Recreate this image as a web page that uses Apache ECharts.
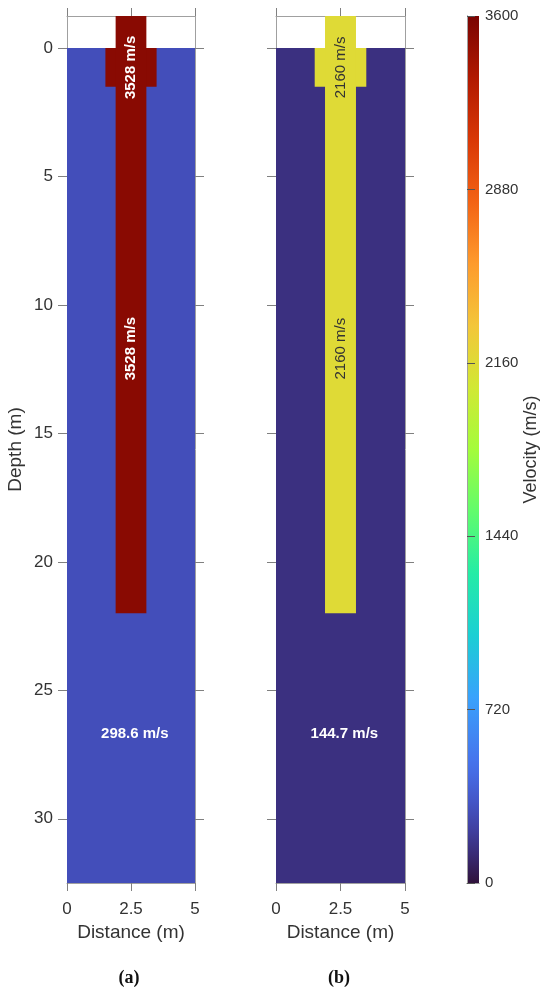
<!DOCTYPE html>
<html>
<head>
<meta charset="utf-8">
<script src="https://cdn.jsdelivr.net/npm/echarts@6/dist/echarts.min.js"></script>
<style>
  html, body { margin: 0; padding: 0; background: #fff; }
  #chart { width: 550px; height: 997px; }
</style>
</head>
<body>
<div id="chart"></div>
<script>
// velocities (m/s): panel a, panel b
var soilVel = [298.6, 144.7];
var pileVel = [3528, 2160];

// geometry in metres: [x0, x1, depthTop, depthBottom]
var soilBox = [0, 5, 0, 32.5];
var capBox = [1.5, 3.5, 0, 1.5];
var pileBox = [1.9, 3.1, -1.25, 22];

// where the velocity labels sit: [distance, depth]
var pileLabelPos = [[2.5, 0.75], [2.5, 11.7]];
var soilLabelPos = [2.65, 26.7];

// axis ticks
var depthTicks = [0, 5, 10, 15, 20, 25, 30];
var distTicks = [0, 2.5, 5];
var velTicks = [0, 720, 1440, 2160, 2880, 3600];

// turbo colour map key colours (offset 0..1)
var turboStops = [
  [0, "#30123b"], [8 / 255, "#392a73"], [16 / 255, "#4040a2"], [24 / 255, "#4456c7"],
  [32 / 255, "#466be3"], [2 / 14, "#4675ed"], [3 / 14, "#39a2fc"], [4 / 14, "#1bcfd4"],
  [5 / 14, "#24eca6"], [6 / 14, "#61fc6c"], [7 / 14, "#a4fc3b"], [8 / 14, "#d1e834"],
  [9 / 14, "#f3c63a"], [10 / 14, "#fe9b2d"], [11 / 14, "#f36315"], [12 / 14, "#d93806"],
  [13 / 14, "#b11901"], [1, "#7a0402"],
];

function hexRgb(h) {
  return [parseInt(h.substr(1, 2), 16), parseInt(h.substr(3, 2), 16), parseInt(h.substr(5, 2), 16)];
}
function turbo(t) {
  for (var j = 1; j < turboStops.length; j++) {
    if (t <= turboStops[j][0]) {
      var a = turboStops[j - 1], b = turboStops[j];
      var f = (t - a[0]) / (b[0] - a[0]);
      var ca = hexRgb(a[1]), cb = hexRgb(b[1]);
      return "rgb(" + [0, 1, 2].map(function (k) { return Math.round(ca[k] + f * (cb[k] - ca[k])); }).join(",") + ")";
    }
  }
  return turboStops[turboStops.length - 1][1];
}
// evenly spaced colours for the visualMap
var turboColors = [];
for (var i = 0; i <= 255; i++) turboColors.push(turbo(i / 255));
var gradStops = turboStops.map(function (s) { return { offset: s[0], color: s[1] }; });

function rectRows(k) {
  return [
    soilBox.concat([soilVel[k]]),
    capBox.concat([pileVel[k]]),
    pileBox.concat([pileVel[k]]),
  ];
}

function renderRect(params, api) {
  var p0 = api.coord([api.value(0), api.value(2)]);
  var p1 = api.coord([api.value(1), api.value(3)]);
  return {
    type: "rect",
    shape: {
      x: Math.min(p0[0], p1[0]),
      y: Math.min(p0[1], p1[1]),
      width: Math.abs(p1[0] - p0[0]),
      height: Math.abs(p1[1] - p0[1]),
    },
    style: { fill: api.visual("color") },
  };
}

function textRenderer(rotate, fill, weight) {
  return function (params, api) {
    var p = api.coord([api.value(0), api.value(1)]);
    return {
      type: "text",
      x: p[0],
      y: p[1],
      rotation: rotate,
      style: {
        text: api.value(2) + " m/s",
        align: "center",
        verticalAlign: "middle",
        fill: fill,
        font: weight + " 15px 'Liberation Sans', Arial, sans-serif",
      },
    };
  };
}

var FONT = "'Liberation Sans', Arial, sans-serif";
var lineGray = "#a0a0a0";
var tickGray = "#808080";

function bottomAxis(grid, labels) {
  return {
    type: "value", gridIndex: grid, position: "bottom", min: 0, max: 5, interval: 2.5,
    axisLine: { show: true, onZero: false, lineStyle: { color: lineGray } },
    axisTick: { show: true, inside: false, length: 8, lineStyle: { color: tickGray } },
    axisLabel: { show: labels, margin: 18, fontSize: 17, color: "#333", fontFamily: FONT,
      formatter: function (v) { return distTicks.indexOf(v) >= 0 ? String(v) : ""; } },
    splitLine: { show: false },
    name: labels ? "Distance (m)" : "", nameLocation: "middle", nameGap: 36,
    nameTextStyle: { fontSize: 19, color: "#333", fontFamily: FONT },
  };
}
function topAxis(grid) {
  return {
    type: "value", gridIndex: grid, position: "top", min: 0, max: 5, interval: 2.5,
    axisLine: { show: true, onZero: false, lineStyle: { color: lineGray } },
    axisTick: { show: true, inside: false, length: 8, lineStyle: { color: tickGray } },
    axisLabel: { show: false }, splitLine: { show: false },
  };
}
function depthAxis(grid, side, labels) {
  return {
    type: "value", gridIndex: grid, position: side, inverse: true, min: -1.25, max: 32.5,
    axisLine: { show: true, onZero: false, lineStyle: { color: lineGray } },
    axisTick: { show: true, inside: false, length: 9, customValues: depthTicks, lineStyle: { color: tickGray } },
    axisLabel: { show: labels, customValues: depthTicks, margin: 14, fontSize: 17, color: "#333", fontFamily: FONT },
    splitLine: { show: false },
    name: labels ? "Depth (m)" : "", nameLocation: "middle", nameGap: 42, nameRotate: 90,
    nameTextStyle: { fontSize: 19, color: "#333", fontFamily: FONT },
  };
}

var myChart = echarts.init(document.getElementById("chart"));
var option = {
  backgroundColor: "#fff",
  animation: false,
  title: [
    { text: "(a)", left: 129, top: 969, textAlign: "center", padding: 0,
      textStyle: { fontFamily: "'Liberation Serif', 'Times New Roman', serif", fontWeight: "bold", fontSize: 18, color: "#111" } },
    { text: "(b)", left: 339, top: 969, textAlign: "center", padding: 0,
      textStyle: { fontFamily: "'Liberation Serif', 'Times New Roman', serif", fontWeight: "bold", fontSize: 18, color: "#111" } },
  ],
  grid: [
    { left: 67, top: 16, width: 128, height: 867 },
    { left: 276, top: 16, width: 129, height: 867 },
    { left: 467, top: 16, width: 12, height: 867 },
  ],
  visualMap: {
    type: "continuous", show: false, min: 0, max: 3600, dimension: 4,
    seriesIndex: [0, 3], inRange: { color: turboColors },
  },
  xAxis: [
    bottomAxis(0, true), topAxis(0),
    bottomAxis(1, true), topAxis(1),
    { type: "value", gridIndex: 2, position: "bottom", min: 0, max: 1,
      axisLine: { show: true, lineStyle: { color: lineGray } }, axisTick: { show: false },
      axisLabel: { show: false }, splitLine: { show: false } },
    { type: "value", gridIndex: 2, position: "top", min: 0, max: 1,
      axisLine: { show: true, lineStyle: { color: lineGray } }, axisTick: { show: false },
      axisLabel: { show: false }, splitLine: { show: false } },
  ],
  yAxis: [
    depthAxis(0, "left", true), depthAxis(0, "right", false),
    depthAxis(1, "left", false), depthAxis(1, "right", false),
    { type: "value", gridIndex: 2, position: "right", min: 0, max: 3600, interval: 720, z: 5,
      axisLine: { show: true, lineStyle: { color: lineGray } },
      axisTick: { show: false },
      axisLabel: { margin: 6, fontSize: 15, color: "#333", fontFamily: FONT,
        formatter: function (v) { return String(v); } },
      splitLine: { show: false },
      name: "Velocity (m/s)", nameLocation: "middle", nameGap: 40, nameRotate: 90,
      nameTextStyle: { fontSize: 18, color: "#333", fontFamily: FONT } },
    { type: "value", gridIndex: 2, position: "left", min: 0, max: 3600, interval: 720, z: 5,
      axisLine: { show: true, lineStyle: { color: lineGray } },
      axisTick: { show: true, inside: true, length: 8, lineStyle: { color: "#555" } },
      axisLabel: { show: false }, splitLine: { show: false } },
  ],
  series: [
    // panel a
    { type: "custom", xAxisIndex: 0, yAxisIndex: 0, renderItem: renderRect, data: rectRows(0), z: 2 },
    { type: "custom", xAxisIndex: 0, yAxisIndex: 0, z: 5,
      renderItem: textRenderer(Math.PI / 2, "#fff", "bold"),
      data: pileLabelPos.map(function (p) { return [p[0], p[1], pileVel[0]]; }) },
    { type: "custom", xAxisIndex: 0, yAxisIndex: 0, z: 5,
      renderItem: textRenderer(0, "#fff", "bold"),
      data: [[soilLabelPos[0], soilLabelPos[1], soilVel[0]]] },
    // panel b
    { type: "custom", xAxisIndex: 2, yAxisIndex: 2, renderItem: renderRect, data: rectRows(1), z: 2 },
    { type: "custom", xAxisIndex: 2, yAxisIndex: 2, z: 5,
      renderItem: textRenderer(Math.PI / 2, "#333", "normal"),
      data: pileLabelPos.map(function (p) { return [p[0], p[1], pileVel[1]]; }) },
    { type: "custom", xAxisIndex: 2, yAxisIndex: 2, z: 5,
      renderItem: textRenderer(0, "#fff", "bold"),
      data: [[soilLabelPos[0], soilLabelPos[1], soilVel[1]]] },
    // colour bar
    { type: "custom", xAxisIndex: 4, yAxisIndex: 4, z: 1,
      renderItem: function (params, api) {
        var p0 = api.coord([0, api.value(0)]);
        var p1 = api.coord([1, api.value(1)]);
        return {
          type: "rect",
          shape: { x: p0[0], y: p1[1], width: p1[0] - p0[0], height: p0[1] - p1[1] },
          style: { fill: new echarts.graphic.LinearGradient(0, 1, 0, 0, gradStops) },
        };
      },
      data: [[velTicks[0], velTicks[velTicks.length - 1]]] },
  ],
};
myChart.setOption(option);
</script>
</body>
</html>
